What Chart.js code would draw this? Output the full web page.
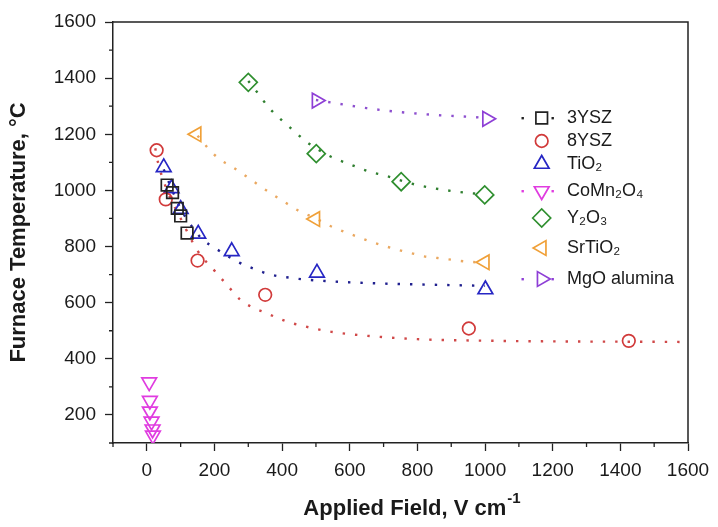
<!DOCTYPE html>
<html>
<head>
<meta charset="utf-8">
<script src="https://cdn.jsdelivr.net/npm/chart.js@4.4.1/dist/chart.umd.min.js"></script>
<style>
  html, body { margin: 0; padding: 0; background: #fff; }
</style>
</head>
<body>
<canvas id="chart" width="718" height="527"></canvas>
<script>
const seriesNames = ['3YSZ', '8YSZ', 'TiO₂', 'CoMn₂O₄', 'Y₂O₃', 'SrTiO₂', 'MgO alumina'];

const ysz3X = [60, 76, 90, 100, 119];
const ysz3Y = [1019, 992, 936, 909, 848];

const ysz8X = [29, 56, 150, 350, 952, 1425];
const ysz8Y = [1143, 968, 750, 628, 508, 464];

const tio2X = [50, 73, 100, 152, 251, 503, 1001];
const tio2Y = [1082, 1007, 933, 845, 783, 706, 647];

const comnX = [7, 9, 9, 14, 17, 18];
const comnY = [317, 251, 213, 177, 149, 127];

const y2o3X = [300, 501, 752, 999];
const y2o3Y = [1385, 1131, 1031, 984];

const srtiX = [147, 498, 999];
const srtiY = [1200, 898, 744];

const mgoX = [502, 1006];
const mgoY = [1320, 1255];

// dotted guide curves
const fit8X = [25, 33, 60, 100, 150, 206, 240, 275, 314, 349, 384, 423, 462, 502, 546, 650, 800, 1035, 1200, 1400, 1600];
const fit8Y = [1150, 1100, 1000, 900, 785, 706, 659, 612, 582, 565, 547, 529, 517, 506, 496, 482, 470, 464, 462, 461, 460];

const fitTiX = [50, 75, 100, 125, 166, 201, 275, 310, 349, 388, 423, 462, 531, 650, 800, 1000];
const fitTiY = [1075, 1000, 935, 885, 824, 795, 742, 724, 706, 694, 689, 683, 677, 670, 665, 660];

const fitYX = [300, 330, 360, 400, 433, 467, 500, 546, 600, 660, 700, 800, 900, 1000];
const fitYY = [1390, 1344, 1296, 1249, 1214, 1178, 1150, 1119, 1093, 1066, 1054, 1019, 998, 985];

const fitSrX = [150, 177, 212, 260, 299, 334, 374, 413, 448, 500, 541, 581, 620, 660, 700, 740, 780, 820, 860, 900, 940, 1000];
const fitSrY = [1195, 1156, 1114, 1078, 1046, 1016, 984, 954, 928, 900, 874, 854, 836, 818, 803, 789, 777, 765, 759, 753, 747, 742];

const fitMgX = [500, 556, 650, 750, 850, 971, 1000];
const fitMgY = [1322, 1311, 1293, 1279, 1269, 1261, 1258];

const xTicksMin = -100, xTicksMax = 1600;
const yTicksMin = 100, yTicksMax = 1600;

const pts = (xs, ys) => xs.map((x, i) => ({ x: x, y: ys[i] }));
const FONT = '"Liberation Sans", Arial, sans-serif';
const clear = 'rgba(0,0,0,0)';

function markers(i, xs, ys, color, style, radius, rot) {
    return {
        label: seriesNames[i],
        data: pts(xs, ys),
        showLine: false,
        pointStyle: style,
        pointRadius: radius,
        pointRotation: rot || 0,
        pointBorderWidth: 1.7,
        borderColor: color,
        backgroundColor: clear,
        order: 0
    };
}

function guide(xs, ys, color) {
    return {
        label: '',
        data: pts(xs, ys),
        showLine: true,
        pointRadius: 0,
        borderColor: color,
        borderWidth: 2.4,
        borderDash: [2.4, 10],
        cubicInterpolationMode: 'monotone',
        fill: false,
        order: 1
    };
}

const datasets = [
    markers(0, ysz3X, ysz3Y, '#222222', 'rect', 8.2),
    markers(1, ysz8X, ysz8Y, '#d13a3a', 'circle', 6.3),
    markers(2, tio2X, tio2Y, '#2626c4', 'triangle', 8.5),
    markers(3, comnX, comnY, '#e03ce0', 'triangle', 8.5, 180),
    markers(4, y2o3X, y2o3Y, '#2f8f2f', 'rectRot', 9),
    markers(5, srtiX, srtiY, '#f0a038', 'triangle', 8.5, -90),
    markers(6, mgoX, mgoY, '#8e3fd6', 'triangle', 8.5, 90),
    guide(fit8X, fit8Y, '#d04848'),
    guide(fitTiX, fitTiY, '#20208f'),
    guide(fitYX, fitYY, '#2f7f2f'),
    guide(fitSrX, fitSrY, '#eaa860'),
    guide(fitMgX, fitMgY, '#8d4fcf')
];

// short minor ticks, the top / right frame and the x title with its superscript
const frameAndMinor = {
    id: 'frameAndMinor',
    afterDraw(chart) {
        const ctx = chart.ctx;
        const a = chart.chartArea;
        const xs = chart.scales.x, ys = chart.scales.y;
        ctx.save();
        ctx.strokeStyle = '#222';
        ctx.lineWidth = 1.5;
        ctx.beginPath();
        ctx.moveTo(a.left, a.top);
        ctx.lineTo(a.right, a.top);
        ctx.lineTo(a.right, a.bottom);
        ctx.stroke();
        ctx.lineWidth = 1.3;
        ctx.beginPath();
        xs.ticks.forEach(t => {
            if (t.value % 200 !== 0) {
                const p = xs.getPixelForValue(t.value);
                ctx.moveTo(p, a.bottom);
                ctx.lineTo(p, a.bottom + 4);
            }
        });
        ys.ticks.forEach(t => {
            if (t.value % 200 !== 0) {
                const p = ys.getPixelForValue(t.value);
                ctx.moveTo(a.left, p);
                ctx.lineTo(a.left - 4, p);
            }
        });
        ctx.stroke();

        const main = 'Applied Field, V cm';
        const sup = '-1';
        ctx.fillStyle = '#1a1a1a';
        ctx.textBaseline = 'alphabetic';
        ctx.textAlign = 'left';
        ctx.font = 'bold 22px ' + FONT;
        const w1 = ctx.measureText(main).width;
        ctx.font = 'bold 15px ' + FONT;
        const w2 = ctx.measureText(sup).width;
        const start = 412 - (w1 + w2 + 1) / 2;
        ctx.font = 'bold 22px ' + FONT;
        ctx.fillText(main, start, 515);
        ctx.font = 'bold 15px ' + FONT;
        ctx.fillText(sup, start + w1 + 1, 503);
        ctx.restore();
    }
};

// legend inside the plot, drawn from the dataset styles
const legendInside = {
    id: 'legendInside',
    afterDraw(chart) {
        const ctx = chart.ctx;
        const rows = [118, 141, 164, 191, 218, 248, 279];
        const withDots = [0, 3, 6];
        ctx.save();
        ctx.font = '18px ' + FONT;
        ctx.textBaseline = 'middle';
        ctx.textAlign = 'left';
        seriesNames.forEach((name, i) => {
            const ds = chart.data.datasets[i];
            const cy = rows[i];
            const cx = 541.7;
            if (withDots.includes(i)) {
                ctx.fillStyle = ds.borderColor;
                ctx.fillRect(521.5, cy - 1, 2.4, 2.4);
                ctx.fillRect(551.5, cy - 1, 2.4, 2.4);
            }
            ctx.strokeStyle = ds.borderColor;
            ctx.fillStyle = clear;
            ctx.lineWidth = ds.pointBorderWidth;
            Chart.helpers.drawPoint(ctx, {
                pointStyle: ds.pointStyle,
                radius: ds.pointRadius,
                rotation: ds.pointRotation,
                borderWidth: ds.pointBorderWidth
            }, cx, cy);
            ctx.fillStyle = '#1a1a1a';
            ctx.fillText(name, 567, cy);
        });
        ctx.restore();
    }
};

const config = {
    type: 'scatter',
    data: { datasets: datasets },
    options: {
        responsive: false,
        animation: false,
        layout: { padding: { top: 22, right: 30, left: 0, bottom: 0 } },
        plugins: {
            legend: { display: false },
            tooltip: { enabled: false }
        },
        scales: {
            x: {
                type: 'linear',
                min: xTicksMin,
                max: xTicksMax,
                afterFit: s => { s.height = 84; },
                ticks: {
                    stepSize: 100,
                    autoSkip: false,
                    maxRotation: 0,
                    padding: 8,
                    color: '#1a1a1a',
                    font: { family: FONT, size: 19 },
                    callback: v => (v % 200 === 0 ? v : '')
                },
                grid: {
                    drawOnChartArea: false,
                    tickLength: 8,
                    tickWidth: 1.3,
                    tickColor: c => (c.tick && c.tick.value % 200 === 0 ? '#222' : clear)
                },
                border: { display: true, color: '#222', width: 1.5 },
                title: { display: false }
            },
            y: {
                type: 'linear',
                min: yTicksMin,
                max: yTicksMax,
                afterFit: s => { s.width = 113; },
                ticks: {
                    stepSize: 100,
                    autoSkip: false,
                    padding: 9,
                    color: '#1a1a1a',
                    font: { family: FONT, size: 19 },
                    callback: v => (v % 200 === 0 ? v : '')
                },
                grid: {
                    drawOnChartArea: false,
                    tickLength: 8,
                    tickWidth: 1.3,
                    tickColor: c => (c.tick && c.tick.value % 200 === 0 ? '#222' : clear)
                },
                border: { display: true, color: '#222', width: 1.5 },
                title: {
                    display: true,
                    text: 'Furnace Temperature, °C',
                    color: '#1a1a1a',
                    font: { family: FONT, size: 22, weight: 'bold' },
                    padding: { top: 6, bottom: 0 }
                }
            }
        }
    },
    plugins: [frameAndMinor, legendInside]
};

const myChart = new Chart(document.getElementById('chart'), config);
</script>
</body>
</html>
